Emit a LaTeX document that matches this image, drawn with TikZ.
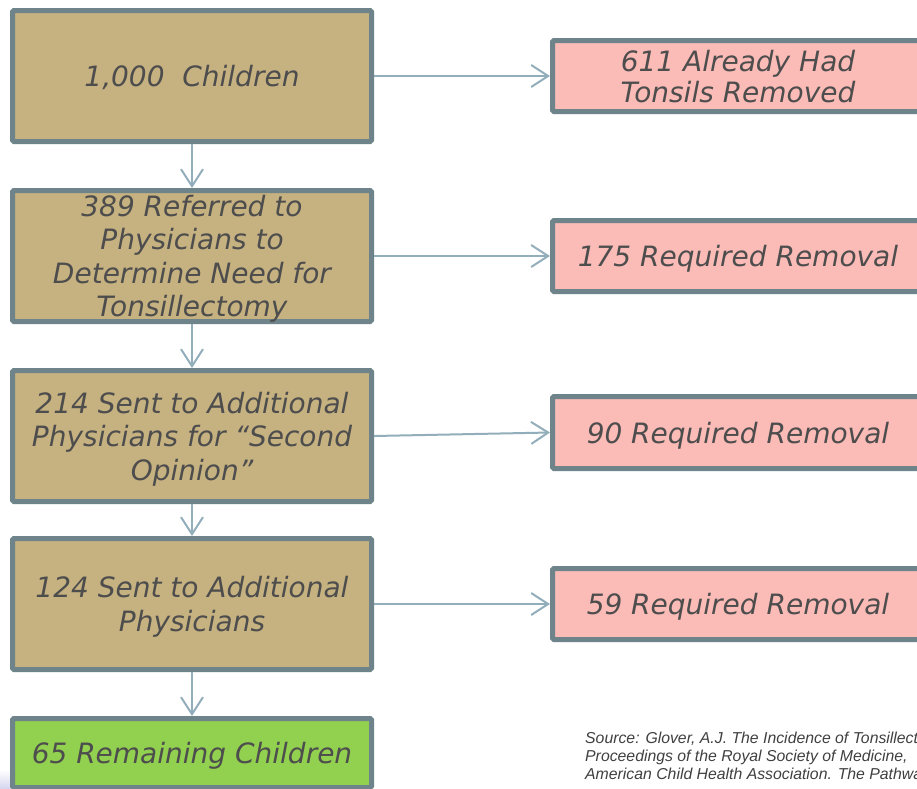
\documentclass[tikz,border=0pt]{standalone}
\usepackage{fontspec}
\setmainfont{DejaVu Sans}
\newfontfamily\srcfont{Liberation Sans}
\usetikzlibrary{arrows.meta}
\definecolor{tanfill}{RGB}{198,177,128}
\definecolor{pinkfill}{RGB}{251,187,182}
\definecolor{greenfill}{RGB}{146,208,80}
\definecolor{boxborder}{RGB}{111,131,138}
\definecolor{arrowcol}{RGB}{147,174,187}
\definecolor{txtcol}{RGB}{77,77,77}
\definecolor{srccol}{RGB}{64,64,64}
\definecolor{lavender}{RGB}{214,214,240}
\tikzset{
  box/.style={draw=boxborder, line width=5pt, rounded corners=1.5pt, inner sep=0pt,
    align=center, text=txtcol, text depth=0pt, font=\fontsize{28}{33.5}\selectfont\itshape},
  leftbox/.style={box, fill=tanfill, minimum width=359pt, minimum height=131pt},
  rightbox/.style={box, fill=pinkfill, minimum width=371pt, minimum height=71pt},
  endbox/.style={box, fill=greenfill, minimum width=359pt, minimum height=69pt},
  flow/.style={draw=arrowcol, line width=2pt, -{Straight Barb[length=17pt,width=22pt]}},
  source/.style={anchor=base west, align=left, inner sep=0pt, text=srccol,
    font=\srcfont\itshape\fontsize{15.8}{17.8}\selectfont}
}
\begin{document}
\begin{tikzpicture}[x=1pt,y=-1pt]
\useasboundingbox (0,0) rectangle (917,788);
\clip (0,0) rectangle (917,788);
\fill[white] (0,0) rectangle (917,788);
\shade[top color=white, bottom color=lavender] (0,770) rectangle (12,788);

\node[leftbox] (b1) at (192,76) {1,000\ \ Children};
\node[leftbox] (b2) at (192,256) {389 Referred to\\Physicians to\\Determine Need for\\Tonsillectomy};
\node[leftbox] (b3) at (192,436) {214 Sent to Additional\\Physicians for “Second\\Opinion”};
\node[leftbox] (b4) at (192,604) {124 Sent to Additional\\Physicians};
\node[endbox] (b5) at (192,753) {65 Remaining Children};

\node[rightbox, font=\fontsize{28}{31}\selectfont\itshape] (r1) at (738,76) {611 Already Had\\Tonsils Removed};
\node[rightbox] (r2) at (738,256) {175 Required Removal};
\node[rightbox, minimum height=72pt] (r3) at (738,432.5) {90 Required Removal};
\node[rightbox] (r4) at (738,604) {59 Required Removal};

\draw[flow] (b1) -- (b2);
\draw[flow] (b2) -- (b3);
\draw[flow] (b3) -- (b4);
\draw[flow] (b4) -- (b5);

\draw[flow] (b1.east) -- (r1.west);
\draw[flow] (b2.east) -- (r2.west);
\draw[flow] (b3.east) -- (r3.west);
\draw[flow] (b4.east) -- (r4.west);

\node[source] (src) at (585,779) {Source: Glover, A.J. The Incidence of Tonsillectomy\\Proceedings of the Royal Society of Medicine,\\American Child Health Association. The Pathways};
\end{tikzpicture}
\end{document}
